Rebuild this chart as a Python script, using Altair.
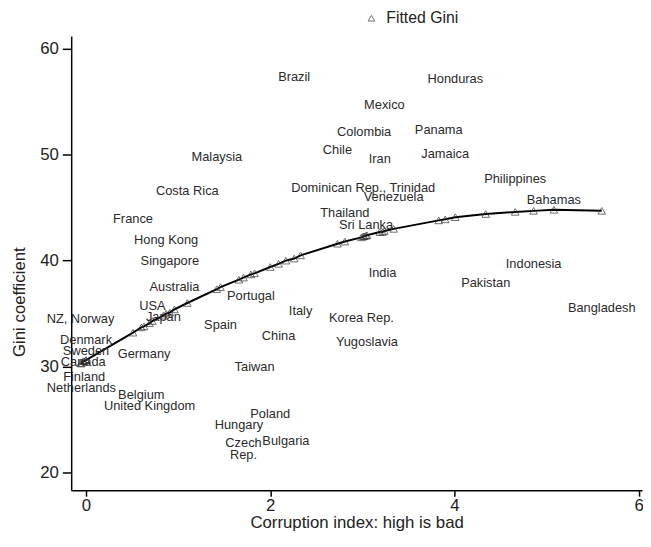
import altair as alt
import pandas as pd

# Country labels placed at (corruption index, Gini coefficient)
countries = [
    "Brazil", "Honduras", "Mexico", "Colombia", "Panama", "Chile", "Iran", "Jamaica",
    "Malaysia", "Costa Rica", "Dominican Rep., Trinidad", "Venezuela", "Thailand",
    "Sri Lanka", "Philippines", "Bahamas", "France", "Hong Kong", "Singapore",
    "Australia", "USA", "Japan", "NZ, Norway", "Denmark", "Sweden", "Canada",
    "Finland", "Netherlands", "Germany", "Belgium", "United Kingdom", "Portugal",
    "Spain", "Italy", "China", "Taiwan", "Poland", "Hungary", "Czech\nRep.",
    "Bulgaria", "India", "Korea Rep.", "Yugoslavia", "Indonesia", "Pakistan",
    "Bangladesh",
]
corruption = [
    2.26, 4.01, 3.24, 3.02, 3.83, 2.73, 3.19, 3.90,
    1.42, 1.10, 3.01, 3.34, 2.81,
    3.04, 4.66, 5.08, 0.51, 0.87, 0.91,
    0.96, 0.72, 0.84, -0.06, 0.00, 0.00, -0.03,
    -0.02, -0.05, 0.63, 0.60, 0.69, 1.79,
    1.46, 2.33, 2.09, 1.83, 2.00, 1.66, 1.71,
    2.17, 3.22, 2.99, 3.05, 4.86, 4.34,
    5.60,
]
gini = [
    57.3, 57.1, 54.7, 52.1, 52.3, 50.4, 49.6, 50.1,
    49.8, 46.6, 46.9, 46.0, 44.5,
    43.4, 47.7, 45.7, 43.9, 41.9, 40.0,
    37.5, 35.7, 34.7, 34.5, 32.5, 31.5, 30.4,
    29.0, 28.0, 31.2, 27.3, 26.3, 36.7,
    33.9, 35.2, 32.9, 30.0, 25.5, 24.5, 22.8,
    23.0, 38.8, 34.6, 32.3, 39.7, 37.9,
    35.5,
]
# Fitted Gini at each country's corruption index
fitted = [
    40.2, 44.1, 42.8, 42.3, 43.8, 41.6, 42.7, 43.9,
    37.3, 36.0, 42.3, 43.0, 41.8,
    42.35, 44.6, 44.8, 33.2, 35.0, 35.1,
    35.4, 34.3, 34.8, 30.3, 30.6, 30.6, 30.5,
    30.5, 30.3, 33.8, 33.7, 34.1, 38.7,
    37.5, 40.5, 39.7, 38.8, 39.4, 38.2, 38.4,
    40.0, 42.7, 42.2, 42.4, 44.7, 44.4,
    44.7,
]

df = pd.DataFrame({
    "country": countries,
    "corruption": corruption,
    "gini": gini,
    "fitted": fitted,
    "series": ["Fitted Gini"] * len(countries),
})

FONT = "Liberation Sans"
xscale = alt.Scale(domain=[-0.161, 6.037], nice=False, zero=False)
yscale = alt.Scale(domain=[18.32, 61.21], nice=False, zero=False)

xaxis = alt.Axis(values=[0, 2, 4, 6], title="Corruption index: high is bad", format="d",
                 tickSize=6, labelPadding=1, titlePadding=2)
yaxis = alt.Axis(values=[20, 30, 40, 50, 60], title="Gini coefficient", format="d",
                 tickSize=9, labelPadding=4, labelAngle=0,
                 titleX=-52, titleY=269, titleAngle=-90,
                 titleAlign="center", titleBaseline="middle")

labels = alt.Chart(df).mark_text(
    align="center", baseline="middle", fontSize=13, font=FONT, color="#2a2a2a",
    lineBreak="\n", lineHeight=12,
).encode(
    x=alt.X("corruption:Q", scale=xscale, axis=xaxis),
    y=alt.Y("gini:Q", scale=yscale, axis=yaxis),
    text="country:N",
)

line = alt.Chart(df).mark_line(color="black", strokeWidth=2).encode(
    x=alt.X("corruption:Q", scale=xscale),
    y=alt.Y("fitted:Q", scale=yscale),
    order="corruption:Q",
)

points = alt.Chart(df).mark_point(
    filled=False, size=60, strokeWidth=1, color="#333333"
).encode(
    x=alt.X("corruption:Q", scale=xscale),
    y=alt.Y("fitted:Q", scale=yscale),
    shape=alt.Shape(
        "series:N",
        scale=alt.Scale(range=["triangle-up"]),
        legend=alt.Legend(
            title=None, orient="none", legendX=296, legendY=-26,
            labelFontSize=16, labelFont=FONT, labelColor="#222222",
            labelOffset=7,
            symbolSize=45, symbolStrokeColor="#333333", symbolStrokeWidth=1,
            symbolFillColor="white",
        ),
    ),
)

chart = alt.layer(line, points, labels).properties(
    width=578, height=460,
    autosize=alt.AutoSizeParams(type="none"),
    padding={"left": 64, "top": 25, "right": 1, "bottom": 46},
).configure_view(stroke=None).configure_axis(
    grid=False,
    domainColor="black", domainWidth=1.5,
    tickColor="black", tickWidth=1.5,
    labelFont=FONT, titleFont=FONT,
    labelFontSize=17, titleFontSize=17,
    labelColor="#222222", titleColor="#222222",
    titleFontWeight="normal",
)

chart.save("out.html", embed_options={"renderer": "svg", "actions": False})
